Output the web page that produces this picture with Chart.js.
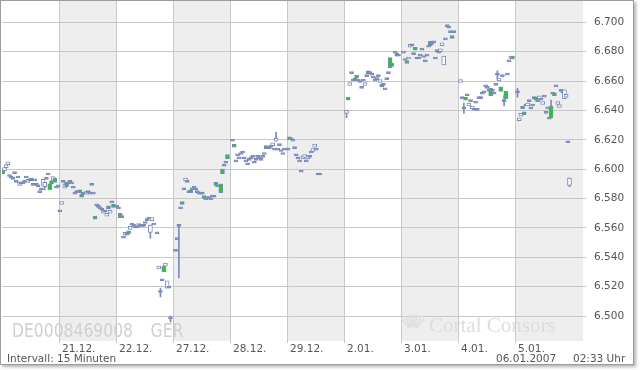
<!DOCTYPE html>
<html>
<head>
<meta charset="utf-8">
<script src="https://cdn.jsdelivr.net/npm/chart.js@4.4.1/dist/chart.umd.min.js"></script>
<style>
  body { margin: 0; background: #fff; }
  #frame { position: absolute; left: 0; top: 0; width: 632px; height: 363px;
           border: 1px solid #9c9c9c; box-shadow: 2px 2px 3px rgba(0,0,0,0.3); background: #fff; }
  #chart { position: absolute; left: 0; top: 0; }
</style>
</head>
<body>
<div id="frame"></div>
<canvas id="chart" width="640" height="370"></canvas>
<script>
// 15-minute candles, [open, close] per slot, one array per trading day
const SLOTS = 34;
const dayLabels = ["20.12.", "21.12.", "22.12.", "27.12.", "28.12.", "29.12.", "2.01.", "3.01.", "4.01.", "5.01."];

const d1220 = [[6597,6599],[6601,6599],[6603,6601],[6605,6603],[6595,6595],[6594,6594],[6593,6593],[6597,6597],
  [6591,6591],[6594,6594],[6591,6589],[6590,6590],[6590,6590],[6591,6591],[6594,6594],[6593,6591],[6592,6592],
  [6592,6594],[6589,6589],[6592,6592],[6589,6589],[6588,6588],[6584,6584],[6586,6586],[6593,6589],[6591,6588],
  [6593,6593],[6596,6596],[6586,6590],[6590,6592],[6595,6592],[6591,6594],[6587,6587],[6588,6588]];
const d1221 = [[6571,6571],[6578,6576],[6591,6591],[6590,6587],[6588,6591],[6590,6590],[6591,6591],[6590,6590],
  [6587,6587],[6583,6583],[6584,6584],[6584,6584],[6584,6586],[6581,6583],[6583,6583],[6583,6583],[6585,6583],
  [6584,6584],[6583,6583],[6589,6589],[6583,6583],[6566,6568],[6575,6575],[6574,6574],[6573,6573],[6572,6572],
  [6572,6570],[6571,6571],[6570,6568],[6573,6575],[6572,6570],[6577,6577],[6574,6576],null];
const d1222 = [[6574,6574],[6573,6573],[6567,6570],[6567,6567],[6553,6553],[6557,6555],[6555,6555],[6556,6558],
  [6561,6559],[6562,6562],[6561,6561],[6560,6560],[6560,6560],[6563,6561],[6561,6561],[6561,6561],[6561,6561],
  [6563,6563],[6565,6565],[6566,6566],[6562,6557],[6567,6565],[6562,6562],null,[6556,6556],[6534,6532],
  [6516,6516],[6524,6524],[6530,6534],[6536,6534],[6524,6519],[6519,6519],[6498,6498],null];
const d1227 = [null,[6544,6544],[6552,6552],[6561,6562],[6573,6573],[6576,6578],[6586,6586],[6594,6592],
  [6591,6591],[6584,6584],[6584,6586],[6586,6586],[6587,6587],[6586,6586],[6584,6584],[6583,6583],[6583,6583],
  [6583,6583],[6580,6582],[6579,6579],[6580,6580],[6580,6580],[6579,6579],[6581,6581],[6581,6581],[6589,6591],
  [6588,6588],null,[6584,6590],[6597,6600],[6602,6602],[6604,6604],[6607,6610],null];
const d1228 = [null,[6619,6619],[6615,6617],[6605,6605],[6609,6609],[6607,6607],[6610,6610],[6611,6611],
  [6607,6607],[6605,6605],[6603,6603],[6606,6606],[6607,6607],[6608,6608],[6604,6604],[6606,6606],[6608,6608],
  [6607,6607],[6606,6606],[6608,6608],[6610,6610],[6614,6616],[6614,6614],[6614,6614],[6615,6615],[6618,6616],
  [6613,6613],[6621,6619],[6613,6613],[6616,6616],[6612,6612],[6610,6610],[6613,6613],null];
const d1229 = [[6613,6613],[6620,6622],[6620,6620],[6619,6619],[6614,6614],[6609,6609],[6607,6607],[6605,6605],
  [6598,6598],[6609,6607],[6610,6608],[6605,6605],[6609,6607],[6608,6608],[6611,6611],[6614,6612],[6617,6615],
  [6613,6613],[6596,6596],[6596,6596]];
const d0102 = [null,[6640,6638],[6647,6649],[6659,6657],[6665,6665],[6660,6660],[6660,6662],[6662,6664],
  [6660,6660],[6659,6659],[6655,6655],[6660,6660],[6659,6657],[6663,6663],[6665,6667],[6665,6665],[6664,6664],
  [6662,6662],[6660,6660],[6661,6661],[6663,6663],[6661,6659],[6656,6658],[6657,6657],[6654,6654],[6661,6661],
  [6665,6665],[6669,6676],[6670,6672],null,[6679,6679],[6677,6679],[6677,6677],null];
const d0103 = [null,[6679,6679],[6674,6674],[6672,6674],[6676,6675],[6685,6683],[6684,6684],[6678,6678],
  [6681,6683],[6675,6675],[6675,6675],[6677,6677],[6681,6681],[6676,6676],[6673,6673],[6677,6677],[6683,6683],
  [6684,6687],[6685,6685],[6686,6686],[6675,6675],[6680,6680],[6679,6679],[6682,6680],[6686,6684],[6677,6671],
  [6688,6688],[6697,6697],[6696,6696],[6693,6693],[6689,6691],[6693,6693],null,null];
const d0104 = [null,[6661,6659],[6648,6648],[6641,6641],[6647,6649],[6650,6650],[6645,6643],[6646,6646],
  [6643,6641],[6640,6640],[6645,6645],[6640,6640],[6648,6648],[6648,6648],[6651,6651],[6652,6652],[6656,6656],
  [6655,6655],[6653,6653],[6650,6655],[6653,6653],[6651,6651],[6657,6657],[6664,6664],[6662,6660],[6653,6656],
  [6663,6663],[6646,6646],[6648,6653],[6664,6664],[6673,6673],[6677,6675],[6675,6677],null];
const d0105 = [null,[6652,6652],[6635,6633],[6638,6636],[6641,6643],[6637,6639],[6643,6643],[6645,6643],
  [6646,6646],[6641,6641],[6643,6643],[6648,6648],[6647,6649],[6646,6646],[6650,6648],[6647,6647],[6646,6644],
  [6649,6649],[6638,6638],[6641,6641],[6634,6634],[6635,6643],[6651,6651],[6650,6652],[6656,6656],[6646,6644],
  [6644,6642],[6653,6653],[6652,6652],[6654,6648],[6651,6649],[6618,6618],[6594,6589],null];

// longer wicks: [day, slot, low, high]
const wicks = [[0,25,6586,6591],[2,20,6553,6562],[2,26,6513,6519],[2,32,6496,6500],[3,3,6526,6562],
  [4,27,6619,6625],[6,1,6635,6640],[8,3,6638,6645],[8,23,6661,6667],[8,27,6643,6650],
  [9,1,6649,6655],[9,21,6635,6647],[9,32,6588,6594]];

const yTicks = [6500, 6520, 6540, 6560, 6580, 6600, 6620, 6640, 6660, 6680, 6700];

const allDays = [d1220, d1221, d1222, d1227, d1228, d1229, d0102, d0103, d0104, d0105];
const bodies = [];
allDays.forEach((day, d) => day.forEach((oc, s) => {
  if (oc) bodies.push({ x: d * SLOTS + s + 0.5, y: oc });
}));
const wickData = wicks.map(w => ({ x: w[0] * SLOTS + w[1] + 0.5, y: [w[2], w[3]] }));

const BLUE = "#7b8aba";
const GREEN = "#22cc22";
const FONT = "DejaVu Sans";

function bodyFill(c) {
  if (!c.raw) return "#ffffff";
  const [o, cl] = c.raw.y;
  if (Math.abs(cl - o) < 1) return BLUE; // doji: solid dash
  return cl > o ? GREEN : "#ffffff";
}

const backdrop = {
  id: "backdrop",
  beforeDraw(chart) {
    const { ctx, chartArea: a, scales: { x } } = chart;
    ctx.save();
    ctx.fillStyle = "#eeeeee";
    dayLabels.forEach((lab, d) => {
      if (d % 2 === 0) return;
      const x0 = x.getPixelForValue(d * SLOTS);
      const x1 = d === dayLabels.length - 1 ? a.right : x.getPixelForValue((d + 1) * SLOTS);
      ctx.fillRect(x0, a.top, x1 - x0, a.bottom - a.top);
    });
    ctx.restore();
  },
  beforeDatasetsDraw(chart) {
    const ctx = chart.ctx;
    ctx.save();
    ctx.fillStyle = "#d0d0d0";
    ctx.font = "19px '" + FONT + "'";
    ctx.textBaseline = "alphabetic";
    ctx.translate(12, 337);
    ctx.scale(0.82, 1);
    ctx.fillText("DE0008469008", 0, 0);
    ctx.fillText("GER", 169, 0);
    ctx.restore();
    // Cortal Consors watermark
    ctx.save();
    ctx.strokeStyle = "#e0e0e0";
    ctx.lineWidth = 2;
    for (let i = 0; i < 7; i++) {
      const ang = -Math.PI / 2 + (i - 3) * 0.22;
      ctx.beginPath();
      ctx.moveTo(413 + Math.cos(ang) * 6, 333 + Math.sin(ang) * 6);
      ctx.lineTo(413 + Math.cos(ang) * 19, 333 + Math.sin(ang) * 19);
      ctx.stroke();
    }
    ctx.fillStyle = "#dddddd";
    ctx.font = "21px 'Liberation Serif'";
    ctx.fillText("Cortal Consors", 429, 332);
    ctx.restore();
  },
  afterDraw(chart) {
    const ctx = chart.ctx;
    ctx.save();
    ctx.fillStyle = "#555555";
    ctx.font = "10.5px '" + FONT + "'";
    ctx.textBaseline = "alphabetic";
    ctx.fillText("Intervall: 15 Minuten", 7, 362);
    ctx.fillText("06.01.2007", 496, 362);
    ctx.fillText("02:33 Uhr", 573, 362);
    ctx.restore();
  }
};

new Chart(document.getElementById("chart"), {
  type: "bar",
  data: {
    datasets: [
      {
        data: bodies,
        order: 0,
        grouped: false,
        barThickness: 4,
        minBarLength: 2,
        borderWidth: 1,
        borderSkipped: false,
        borderColor: BLUE,
        backgroundColor: bodyFill,
      },
      {
        data: wickData,
        order: 1,
        grouped: false,
        barThickness: 1,
        borderWidth: 0,
        backgroundColor: BLUE,
      },
    ],
  },
  options: {
    responsive: false,
    animation: false,
    devicePixelRatio: 1,
    layout: { padding: { left: 2, top: 1, right: 0, bottom: 0 } },
    plugins: { legend: { display: false }, tooltip: { enabled: false } },
    scales: {
      x: {
        type: "linear",
        min: 0,
        max: 346.56,
        offset: false,
        border: { display: false },
        grid: { color: "#c8c8c8", offset: false, tickLength: 2 },
        afterBuildTicks: (s) => { s.ticks = dayLabels.slice(1).map((l, i) => ({ value: (i + 1) * SLOTS })); },
        afterFit: (s) => { s.height = 29; s.paddingLeft = 0; s.paddingRight = 0; },
        ticks: {
          autoSkip: false,
          maxRotation: 0,
          align: "start",
          labelOffset: 3,
          padding: 0,
          color: "#555555",
          font: { family: FONT, size: 10.5 },
          callback: (v) => dayLabels[Math.round(v / SLOTS)],
        },
      },
      y: {
        position: "right",
        min: 6483,
        max: 6714.5,
        border: { display: false },
        grid: { color: "#c8c8c8", tickLength: 3 },
        afterBuildTicks: (s) => { s.ticks = yTicks.map((v) => ({ value: v })); },
        afterFit: (s) => { s.width = 57; s.paddingTop = 0; s.paddingBottom = 0; },
        ticks: {
          padding: 8,
          color: "#555555",
          font: { family: FONT, size: 10.5 },
          callback: (v) => (v / 1000).toFixed(3),
        },
      },
    },
  },
  plugins: [backdrop],
});
</script>
</body>
</html>
